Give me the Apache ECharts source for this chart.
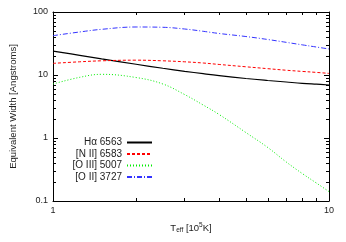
<!DOCTYPE html>
<html>
<head>
<meta charset="utf-8">
<script src="https://cdn.jsdelivr.net/npm/echarts@6/dist/echarts.min.js"></script>
<style>html,body{margin:0;padding:0;background:#fff}#c{width:346px;height:242px}</style>
</head>
<body>
<div id="c"></div>
<script>
var temps = [1, 1.25, 1.5, 2, 2.5, 3, 3.5, 4, 5, 6, 7, 8, 9, 10];
var halpha = [24.0, 20.5, 18.0, 14.8, 12.8, 11.45, 10.5, 9.78, 8.80, 8.18, 7.74, 7.38, 7.14, 6.94];
var nii = [15.3, 16.2, 16.8, 17.2, 16.8, 16.2, 15.5, 14.7, 13.5, 12.6, 11.9, 11.4, 11.0, 10.6];
var oiii = [7.20, 9.19, 10.25, 9.12, 7.20, 4.89, 3.34, 2.36, 1.22, 0.707, 0.416, 0.273, 0.193, 0.141];
var oii = [42.1, 48.2, 53.1, 57.8, 57.2, 53.7, 49.4, 45.6, 40.8, 36.6, 33.0, 30.1, 27.8, 25.9];
var seriesNames = ['H\u03b1 6563', '[N II] 6583', '[O III] 5007', '[O II] 3727'];
var xMajor = [1, 10];
var xMinor = [2, 3, 4, 5, 6, 7, 8, 9];
var yMajor = [0.1, 1, 10, 100];
var yMinor = [0.2, 0.3, 0.4, 0.5, 0.6, 0.7, 0.8, 0.9, 2, 3, 4, 5, 6, 7, 8, 9, 20, 30, 40, 50, 60, 70, 80, 90];

function pairs(v) { return temps.map(function (t, i) { return [t, v[i]]; }); }
var font = 'Liberation Sans, Arial, Helvetica, sans-serif';
var txt = '#222';

function xAx(pos, ticks, len, showLabel, showLine) {
  return {
    type: 'log', logBase: 10, min: 1, max: 10, position: pos,
    axisLine: {show: showLine, onZero: false, lineStyle: {color: '#000', width: 1}},
    axisTick: {show: true, inside: true, length: len, customValues: ticks, lineStyle: {color: '#000', width: 1}},
    axisLabel: {show: showLabel, customValues: xMajor, color: txt, fontFamily: font, fontSize: 9, margin: 5,
      formatter: function (v) { return String(Math.round(v)); }},
    splitLine: {show: false}
  };
}
function yAx(pos, ticks, len, showLabel, showLine) {
  return {
    type: 'log', logBase: 10, min: 0.1, max: 100, position: pos,
    axisLine: {show: showLine, onZero: false, lineStyle: {color: '#000', width: 1}},
    axisTick: {show: true, inside: true, length: len, customValues: ticks, lineStyle: {color: '#000', width: 1}},
    axisLabel: {show: showLabel, customValues: yMajor, color: txt, fontFamily: font, fontSize: 9, margin: 5,
      formatter: function (v) { return v < 1 ? v.toFixed(1) : String(Math.round(v)); }},
    splitLine: {show: false}
  };
}

var xs = [xAx('bottom', xMajor, 5, true, true), xAx('bottom', xMinor, 3, false, false),
          xAx('top', xMajor, 5, false, true), xAx('top', xMinor, 3, false, false)];
xs[0].name = '{m|T}{s|eff}{m| [10}{p|5}{m|K]}';
xs[0].nameLocation = 'middle';
xs[0].nameGap = 21;
xs[0].nameTextStyle = {rich: {
  m: {fontFamily: font, fontSize: 9.5, color: txt},
  s: {fontFamily: font, fontSize: 6.5, color: txt, verticalAlign: 'bottom', padding: [5, 0, 0, 0]},
  p: {fontFamily: font, fontSize: 6.5, color: txt, verticalAlign: 'top', padding: [0, 0, 5, 0]}
}};
var ys = [yAx('left', yMajor, 5, true, true), yAx('left', yMinor, 3, false, false),
          yAx('right', yMajor, 5, false, true), yAx('right', yMinor, 3, false, false)];
ys[0].name = 'Equivalent Width [Angstroms]';
ys[0].nameLocation = 'middle';
ys[0].nameGap = 35;
ys[0].nameTextStyle = {fontFamily: font, fontSize: 9.5, color: txt};

function mk(name, data, color, type, width) {
  return {name: name, type: 'line', data: pairs(data), smooth: 0.4, symbol: 'none',
    xAxisIndex: 0, yAxisIndex: 0,
    lineStyle: {color: color, width: width, type: type}, itemStyle: {color: color}};
}

var chart = echarts.init(document.getElementById('c'), null, {renderer: 'canvas'});
chart.setOption({
  animation: false,
  backgroundColor: '#fff',
  grid: {left: 47, right: 17, top: 12, bottom: 41, containLabel: false},
  xAxis: xs,
  yAxis: ys,
  legend: {
    orient: 'vertical', align: 'right', right: 193, top: 137.5,
    itemWidth: 25, itemHeight: 8, itemGap: 1.5, padding: 0,
    itemStyle: {opacity: 0},
    lineStyle: {opacity: 1},
    textStyle: {fontFamily: font, fontSize: 10, color: txt, padding: [0, 0, 0, 0]},
    data: seriesNames
  },
  series: [
    mk(seriesNames[0], halpha, '#000000', 'solid', 1.2),
    mk(seriesNames[1], nii, '#ff0000', [3, 2], 1),
    mk(seriesNames[2], oiii, '#00ee00', [1, 2], 1),
    mk(seriesNames[3], oii, '#3333ff', [5, 2, 1, 2], 1)
  ]
});
</script>
</body>
</html>
